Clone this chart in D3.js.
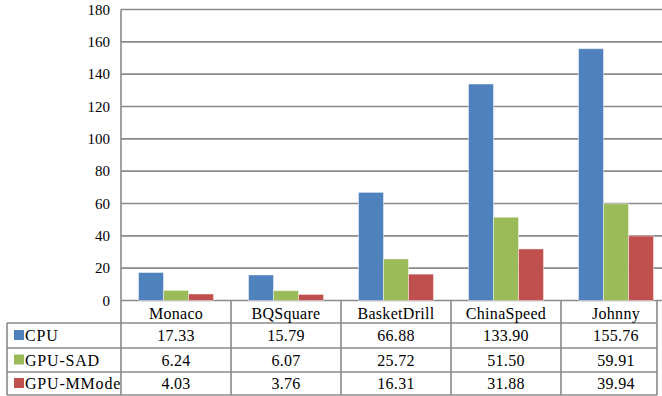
<!DOCTYPE html>
<html>
<head>
<meta charset="utf-8">
<script src="https://cdn.jsdelivr.net/npm/d3@7"></script>
<style>
  html, body { margin: 0; padding: 0; background: #fff; }
  svg { display: block; font-family: "Liberation Serif", "DejaVu Serif", serif; }
  svg text { font-family: "Liberation Serif", "DejaVu Serif", serif !important; fill: #000; }
</style>
</head>
<body>
<svg id="chart" width="662" height="396"></svg>
<script>
// Chart data
const categories = ["Monaco", "BQSquare", "BasketDrill", "ChinaSpeed", "Johnny"];
const seriesNames = ["CPU", "GPU-SAD", "GPU-MMode"];
const cpuValues = [17.33, 15.79, 66.88, 133.90, 155.76];
const gpuSadValues = [6.24, 6.07, 25.72, 51.50, 59.91];
const gpuMModeValues = [4.03, 3.76, 16.31, 31.88, 39.94];
const yTicks = [0, 20, 40, 60, 80, 100, 120, 140, 160, 180];
const seriesColors = ["#4F81BD", "#9BBB59", "#C0504D"];

const seriesValues = [cpuValues, gpuSadValues, gpuMModeValues];

const svg = d3.select("#chart");
const gridColor = "#8a8a8a";
const serif = "'Liberation Serif', 'DejaVu Serif', serif";

// Layout
const plotLeft = 121, plotRight = 671, plotTop = 9.5, plotBottom = 300.5;
const tableLeft = 7, tableRight = 657;
const headerBottom = 323;
const rowBottoms = [348, 372, 395];

const x = d3.scaleBand().domain(categories).range([plotLeft, plotRight]).paddingInner(0).paddingOuter(0);
const xs = d3.scaleBand().domain(seriesNames).range([0, x.bandwidth()]).paddingInner(0).paddingOuter(0.7);
const y = d3.scaleLinear().domain([0, 180]).range([plotBottom, plotTop]);

// Horizontal gridlines
svg.append("g").selectAll("line").data(yTicks).join("line")
  .attr("x1", plotLeft).attr("x2", 662)
  .attr("y1", d => y(d)).attr("y2", d => y(d))
  .attr("stroke", gridColor).attr("stroke-width", 1.6);

// Y-axis labels
const yAxis = d3.axisLeft(y).tickValues(yTicks).tickSize(0).tickPadding(11);
const gy = svg.append("g").attr("transform", `translate(${plotLeft},0)`).call(yAxis)
  .attr("font-family", serif);
gy.select(".domain").remove();
gy.selectAll("text")
  .style("font-family", serif)
  .attr("font-size", 15).attr("fill", "#000");

// Bars
const groups = svg.append("g").selectAll("g").data(categories).join("g")
  .attr("transform", d => `translate(${x(d)},0)`);
groups.selectAll("rect")
  .data((c, ci) => seriesNames.map((s, si) => ({ s, si, v: seriesValues[si][ci] })))
  .join("rect")
  .attr("x", d => xs(d.s))
  .attr("width", xs.bandwidth())
  .attr("y", d => y(d.v))
  .attr("height", d => y(0) - y(d.v))
  .attr("fill", d => seriesColors[d.si])
  .attr("stroke", "rgba(255,255,255,0.45)")
  .attr("stroke-width", 1);

// Data table
const tbl = svg.append("g").style("font-family", serif);
function rule(x1, y1, x2, y2) {
  tbl.append("line").attr("x1", x1).attr("y1", y1).attr("x2", x2).attr("y2", y2)
    .attr("stroke", gridColor).attr("stroke-width", 1.6);
}
// horizontal rules
rule(tableLeft, headerBottom, tableRight, headerBottom);
rowBottoms.forEach(yb => rule(tableLeft, yb, tableRight, yb));
// vertical rules
rule(tableLeft, headerBottom, tableLeft, rowBottoms[2]);
rule(plotLeft, plotTop, plotLeft, rowBottoms[2]);
categories.slice(1).forEach(c => rule(x(c), plotBottom, x(c), rowBottoms[2]));
rule(tableRight, plotBottom, tableRight, rowBottoms[2]);

// Header row: category names
tbl.selectAll("text.cat").data(categories).join("text")
  .attr("class", "cat")
  .attr("x", d => x(d) + x.bandwidth() / 2)
  .attr("y", 318.5)
  .attr("text-anchor", "middle")
  .attr("font-size", 16)
  .attr("letter-spacing", 0.3)
  .style("font-family", serif)
  .text(d => d);

// Series rows with legend keys
const rowTops = [headerBottom, rowBottoms[0], rowBottoms[1]];
seriesNames.forEach((s, si) => {
  const top = rowTops[si], bottom = rowBottoms[si];
  const mid = (top + bottom) / 2;
  tbl.append("rect")
    .attr("x", 14).attr("y", mid - 5.5)
    .attr("width", 10).attr("height", 10)
    .attr("fill", seriesColors[si]);
  tbl.append("text")
    .attr("x", 25).attr("y", mid + 5.8)
    .attr("font-size", 16)
    .attr("letter-spacing", 0.8)
    .style("font-family", serif)
    .text(s);
  tbl.selectAll(null).data(seriesValues[si]).join("text")
    .attr("x", (d, i) => x(categories[i]) + x.bandwidth() / 2)
    .attr("y", mid + 5.8)
    .attr("text-anchor", "middle")
    .attr("font-size", 16)
    .attr("letter-spacing", 0.3)
    .style("font-family", serif)
    .text(d => d.toFixed(2));
});
</script>
</body>
</html>
